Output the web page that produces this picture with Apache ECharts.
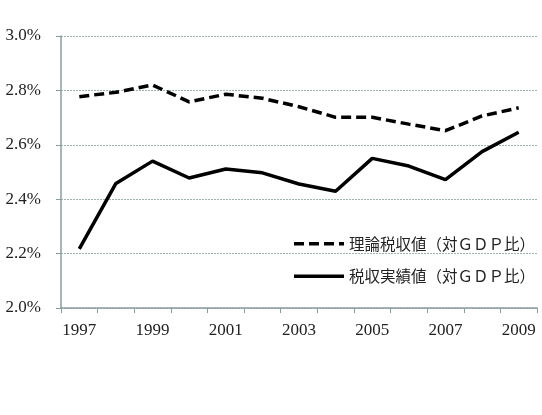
<!DOCTYPE html>
<html>
<head>
<meta charset="utf-8">
<script src="https://cdn.jsdelivr.net/npm/echarts@6/dist/echarts.min.js"></script>
<style>
  html, body { margin: 0; padding: 0; background: #fff; }
  #chart { width: 542px; height: 415px; }
</style>
</head>
<body>
<div id="chart"></div>
<script>
// 年（横軸）
const years = ["1997", "1998", "1999", "2000", "2001", "2002", "2003",
  "2004", "2005", "2006", "2007", "2008", "2009"];
// 理論税収値（対GDP比, %）
const theoretical = [2.777, 2.793, 2.820, 2.758, 2.786, 2.771, 2.740,
  2.701, 2.701, 2.676, 2.652, 2.706, 2.736];
// 税収実績値（対GDP比, %）
const actual = [2.217, 2.458, 2.540, 2.478, 2.511, 2.497, 2.456,
  2.429, 2.550, 2.522, 2.472, 2.575, 2.646];
const seriesNames = ["理論税収値（対ＧＤＰ比）", "税収実績値（対ＧＤＰ比）"];

let mychart = echarts.init(document.getElementById("chart"));
const axisColor = "#8a9d9d";
const labelFont = "'Liberation Serif', 'DejaVu Serif', serif";

mychart.setOption({
  animation: false,
  grid: { left: 61, right: 5, top: 36, bottom: 107 },
  legend: {
    orient: "vertical",
    right: 2,
    top: 231,
    itemWidth: 50,
    itemHeight: 14,
    itemGap: 17,
    itemStyle: { opacity: 0 },
    lineStyle: { width: 3.5 },
    textStyle: {
      fontFamily: "'Noto Sans CJK JP'",
      fontSize: 15.5,
      color: "#222"
    },
    data: seriesNames
  },
  xAxis: {
    type: "category",
    data: years,
    boundaryGap: true,
    axisLine: { lineStyle: { color: axisColor, width: 1.5 } },
    axisTick: { show: true, interval: 0, length: 5, lineStyle: { color: axisColor } },
    axisLabel: {
      interval: 1,
      margin: 14,
      fontFamily: labelFont,
      fontSize: 17,
      color: "#222"
    }
  },
  yAxis: {
    type: "value",
    min: 2.0,
    max: 3.0,
    interval: 0.2,
    axisLine: { show: true, lineStyle: { color: axisColor, width: 1.5 } },
    axisTick: { show: true, length: 5, lineStyle: { color: axisColor } },
    splitLine: { lineStyle: { color: "#9fb0b0", type: [2, 1], width: 1 } },
    axisLabel: {
      margin: 20,
      fontFamily: labelFont,
      fontSize: 17,
      color: "#222",
      formatter: v => v.toFixed(1) + "%"
    }
  },
  series: [
    {
      name: seriesNames[0],
      type: "line",
      data: theoretical,
      symbol: "none",
      lineStyle: { color: "#000", width: 3.5, type: [10, 5] },
      itemStyle: { color: "#000" }
    },
    {
      name: seriesNames[1],
      type: "line",
      data: actual,
      symbol: "none",
      lineStyle: { color: "#000", width: 3.5 },
      itemStyle: { color: "#000" }
    }
  ]
});
</script>
</body>
</html>
